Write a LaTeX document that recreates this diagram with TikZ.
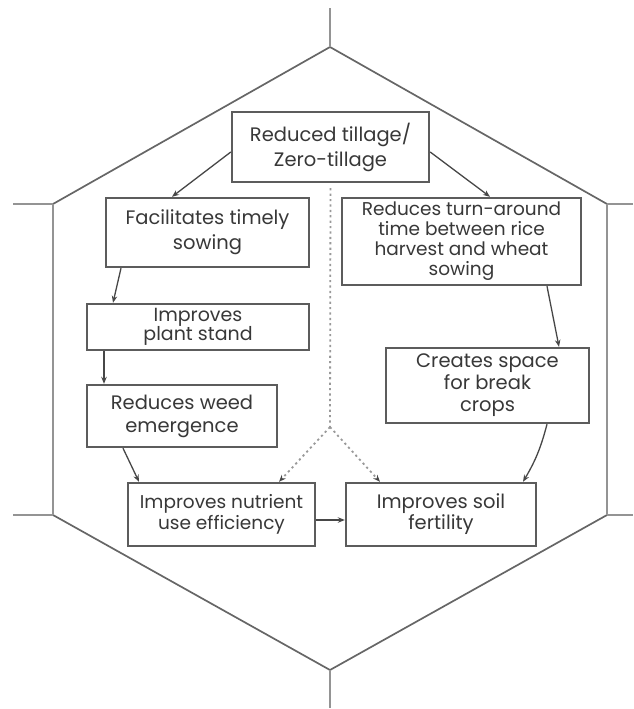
\documentclass[tikz,border=0pt]{standalone}
\usepackage{fontspec}
\setmainfont{Poppins}
\usetikzlibrary{arrows.meta,calc}

\begin{document}
\begin{tikzpicture}[x=1pt, y=-1pt, >={Stealth[length=7pt,width=5.5pt]},
    box/.style={draw=black!64, line width=2.4pt, fill=white, align=center, inner sep=0pt,
        text=black!78, font=\fontsize{19.5}{23}\selectfont},
    hexline/.style={draw=black!60, line width=1.7pt},
    side/.style={draw=black!42, line width=2.8pt},
    link/.style={->, draw=black!72, line width=1.3pt},
    dots/.style={draw=black!40, line width=1.8pt, dash pattern=on 2.2pt off 3.2pt}]
    \useasboundingbox (0,0) rectangle (633,709);

    % hexagon corners
    \coordinate (T) at (330,47);
    \coordinate (UL) at (53,204);
    \coordinate (LL) at (53,515);
    \coordinate (B) at (330,670);
    \coordinate (LR) at (607,515);
    \coordinate (UR) at (607,204);

    % hexagon with its stems
    \draw[hexline] (UL) -- (T) -- (UR);
    \draw[hexline] (LL) -- (B) -- (LR);
    \draw[side] (UL) -- (LL);
    \draw[side] (UR) -- (LR);
    \draw[side] (T) -- (330,8);
    \draw[side] (B) -- (330,708);
    \draw[side] (UL) -- (13,204);
    \draw[side] (LL) -- (13,515);
    \draw[side] (UR) -- (633,204);
    \draw[side] (LR) -- (633,515);

    % boxes
    \node[box, minimum width=197, minimum height=70, font=\fontsize{19.5}{25}\selectfont] (tillage) at (330.5,147)
        {Reduced tillage/\\Zero-tillage};
    \node[box, minimum width=203, minimum height=69, font=\fontsize{19.5}{25}\selectfont] (sowing) at (207.5,232.5)
        {Facilitates timely\\sowing};
    \node[box, minimum width=239, minimum height=87, font=\fontsize{18.5}{20}\selectfont] (turnaround) at (461.5,241.5)
        {Reduces turn-around\\time between rice\\harvest and wheat\\sowing};
    \node[box, minimum width=222, minimum height=46, font=\fontsize{19}{19}\selectfont] (stand) at (198,327)
        {Improves\\plant stand};
    \node[box, minimum width=190, minimum height=62] (weed) at (182,416)
        {Reduces weed\\emergence};
    \node[box, minimum width=203, minimum height=75, font=\fontsize{19.5}{22}\selectfont] (space) at (487.5,385.5)
        {Creates space\\for break\\crops};
    \node[box, minimum width=187, minimum height=63, font=\fontsize{18.5}{21}\selectfont] (nutrient) at (221.5,514.5)
        {Improves nutrient\\use efficiency};
    \node[box, minimum width=190, minimum height=63, font=\fontsize{19.5}{21}\selectfont] (soil) at (441,514.5)
        {Improves soil\\fertility};

    % dotted split below the top box
    \coordinate (split) at (330,427);
    \draw[dots, shorten <=5pt] (tillage.south) -- (split);
    \draw[dots, ->, >={Stealth[length=7pt,width=5.5pt,black!72]}] (split) -- ([xshift=57.5pt]nutrient.north);
    \draw[dots, ->, >={Stealth[length=7pt,width=5.5pt,black!72]}] (split) -- ([xshift=-61pt]soil.north);

    % arrows
    \draw[link] ([yshift=-5pt]tillage.west) -- ([xshift=-35.5pt]sowing.north);
    \draw[link] ([yshift=-5pt]tillage.east) -- ([xshift=28.5pt]turnaround.north);
    \draw[link] ([xshift=-86.5pt]sowing.south) -- ([xshift=-85pt]stand.north);
    \draw[link] ([xshift=-94pt]stand.south) -- ([xshift=-78pt]weed.north);
    \draw[link] ([xshift=-59pt]weed.south) -- ([xshift=-82.5pt]nutrient.north);
    \draw[link] ([xshift=85.5pt]turnaround.south) -- ([xshift=71.5pt]space.north);
    \draw[link] ([xshift=59.5pt]space.south) to[bend left=8] ([xshift=82pt]soil.north);
    \draw[link] ([yshift=-5.5pt]nutrient.east) -- ([yshift=-5.5pt]soil.west);
\end{tikzpicture}
\end{document}
